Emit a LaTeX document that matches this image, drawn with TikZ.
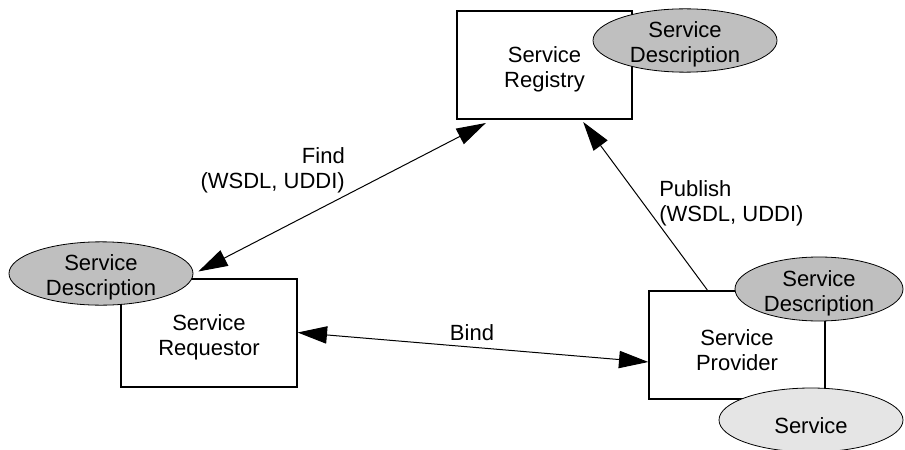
\documentclass[tikz,border=0pt]{standalone}
\usepackage{fontspec}
\setmainfont{Liberation Sans}
\usetikzlibrary{shapes.geometric,arrows.meta}
\tikzset{
  box/.style={draw, line width=1.5pt, fill=white, rectangle,
    minimum width=131.5pt, minimum height=81pt, inner sep=0pt},
  desc/.style={draw, line width=0.6pt, ellipse, fill=black!25,
    minimum width=138pt, minimum height=47.5pt, inner sep=0pt},
  svc/.style={desc, fill=black!10},
  txt/.style={align=center, inner sep=0pt},
  tip/.style={Triangle[length=22pt,width=13pt]},
  link/.style={line width=0.75pt, {Triangle[length=22pt,width=13pt]}-{Triangle[length=22pt,width=13pt]}},
  onelink/.style={line width=0.75pt, -{Triangle[length=22pt,width=13pt]}},
  lbl/.style={inner sep=0pt}
}
\begin{document}
\begin{tikzpicture}[x=0.75pt,y=-0.75pt,
  every node/.append style={font=\fontsize{16.5pt}{18.8pt}\selectfont}]
  \useasboundingbox (0,0) rectangle (905,449);
  \clip (0,0) rectangle (905,449);

  % the three roles
  \node[box] (registry) at (544.5,65) {};
  \node[txt] (registrytxt) at ([yshift=-3.5pt]registry.center) {Service\\Registry};
  \node[box] (requestor) at (209,332.5) {};
  \node[txt] (requestortxt) at ([yshift=-3.5pt]requestor.center) {Service\\Requestor};
  \node[box] (provider) at (737,345) {};
  \node[txt] (providertxt) at ([yshift=-3.5pt]provider.center) {Service\\Provider};

  % service descriptions and the service itself
  \node[desc] (regdesc) at (685,40.5) {};
  \node[txt] (regdesctxt) at ([yshift=-3pt]regdesc.center) {Service\\Description};
  \node[desc] (reqdesc) at (101,273.5) {};
  \node[txt] (reqdesctxt) at ([yshift=-3pt]reqdesc.center) {Service\\Description};
  \node[desc, minimum width=126pt, minimum height=48pt] (provdesc) at (819,289) {};
  \node[txt] (provdesctxt) at ([yshift=-3.5pt]provdesc.center) {Service\\Description};
  \node[svc, minimum height=48pt] (service) at (811,420) {};
  \node[txt] (servicetxt) at ([yshift=-4.5pt]service.center) {Service};

  % interactions
  \draw[link] ([xshift=58.5pt,yshift=4.5pt]requestor.north west)
    -- ([xshift=22.5pt,yshift=-2.25pt]registry.south west);
  \draw[onelink] ([xshift=44.25pt]provider.north west)
    -- ([xshift=-37.5pt,yshift=-1.5pt]registry.south east);
  \draw[link] (requestor.east) -- ([yshift=-12.75pt]provider.west);

  % labels
  \node[lbl, anchor=east, align=right] (findlbl) at (345,170) {Find\\(WSDL, UDDI)};
  \node[lbl, anchor=west, align=left] (publbl) at (659,203) {Publish\\(WSDL, UDDI)};
  \node[lbl] (bindlbl) at (472,333) {Bind};
\end{tikzpicture}
\end{document}
